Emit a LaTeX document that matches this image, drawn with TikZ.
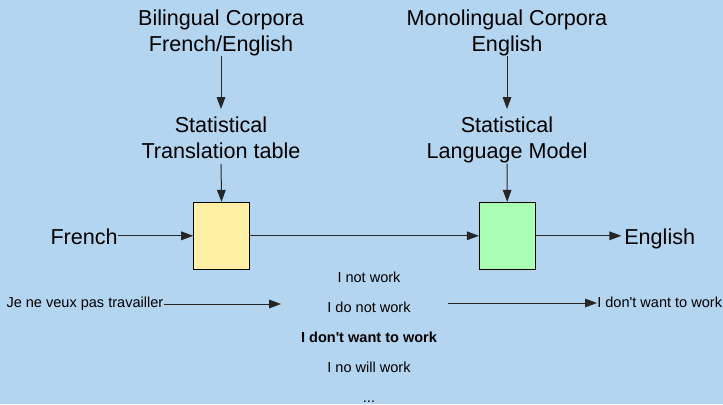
\documentclass[tikz,border=0pt]{standalone}
\usepackage{fontspec}
\newfontfamily\lsans{Liberation Sans}
\usetikzlibrary{arrows.meta}
\definecolor{bg}{RGB}{180,213,240}
\definecolor{yel}{RGB}{255,240,165}
\definecolor{grn}{RGB}{170,255,180}
\tikzset{
  bigtxt/.style={inner sep=0pt,align=center,font=\lsans\fontsize{16.2}{19.5}\selectfont},
  smalltxt/.style={inner sep=0pt,font=\lsans\fontsize{10.9}{12}\selectfont},
  procbox/.style={draw=black,line width=0.75pt,minimum width=41.7pt,minimum height=50.2pt,inner sep=0pt},
  conn/.style={draw=black!85,line width=0.75pt,-{Triangle[length=9pt,width=6.5pt]}},
}
\begin{document}
\begin{tikzpicture}[x=0.75pt,y=-0.75pt]
\useasboundingbox (0,0) rectangle (723,404);
\fill[bg] (0,0) rectangle (723,404);
% top texts
\node[bigtxt,anchor=north] (bil) at (221,9.5) {Bilingual Corpora\\French/English};
\node[bigtxt,anchor=north] (mono) at (507,9.5) {Monolingual Corpora\\English};
\node[bigtxt,anchor=north] (stt) at (221,117) {Statistical\\Translation table};
\node[bigtxt,anchor=north] (slm) at (507,117) {Statistical\\Language Model};
% boxes
\node[procbox,fill=yel] (tt) at (221.5,235.8) {};
\node[procbox,fill=grn] (lm) at (507.2,235.8) {};
% side texts
\node[bigtxt,anchor=base east] (fr) at (118,244) {French};
\node[bigtxt,anchor=base west] (en) at (624,244) {English};
% arrows
\draw[conn,shorten >=6pt] (bil.south) -- (stt.north);
\draw[conn,shorten >=6pt] (mono.south) -- (slm.north);
\draw[conn,shorten <=3.5pt] (stt.south) -- (tt.north);
\draw[conn] (slm.south) -- (lm.north);
\draw[conn] (fr.east |- tt.west) -- (tt.west);
\draw[conn] (tt.east) -- (lm.west);
\draw[conn,shorten >=2pt] (lm.east) -- (en.west |- lm.east);
% bottom example
\node[smalltxt,anchor=base east] (je) at (163.5,307.5) {Je ne veux pas travailler};
\node[smalltxt,anchor=base] (c1) at (369,282) {I not work};
\node[smalltxt,anchor=base] (c2) at (369,312) {I do not work};
\node[smalltxt,anchor=base,font=\lsans\fontsize{10.9}{12}\selectfont\bfseries] (c3) at (369,342) {I don't want to work};
\node[smalltxt,anchor=base] (c4) at (369,372) {I no will work};
\node[smalltxt,anchor=base] (c5) at (369,402) {...};
\node[smalltxt,anchor=base west] (out) at (597,307.5) {I don't want to work};
\coordinate (a1) at (281,304);
\coordinate (a2) at (448,303);
\draw[conn] (je.east |- a1) -- (a1);
\draw[conn] (a2) -- (out.west |- a2);
\end{tikzpicture}
\end{document}
